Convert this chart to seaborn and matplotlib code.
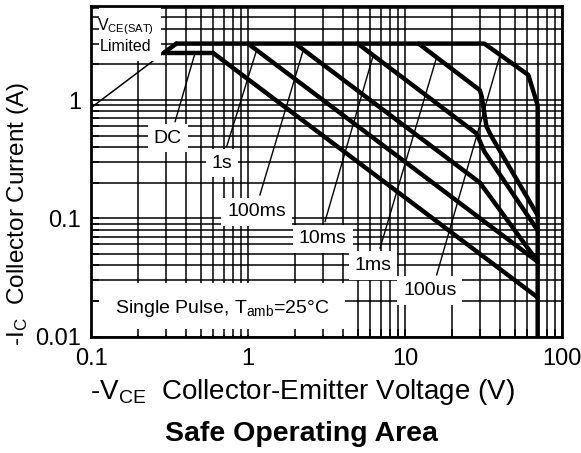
import matplotlib
matplotlib.use("Agg")
import matplotlib.pyplot as plt
import numpy as np
import pandas as pd
import seaborn as sns
from matplotlib.ticker import LogLocator, NullFormatter, FixedLocator, FixedFormatter

sns.set_theme(style="white")
plt.rcParams["font.family"] = ["Liberation Sans", "DejaVu Sans"]
plt.rcParams["mathtext.fontset"] = "custom"
plt.rcParams["mathtext.rm"] = "Liberation Sans"
plt.rcParams["mathtext.it"] = "Liberation Sans"
plt.rcParams["mathtext.bf"] = "Liberation Sans:bold"
plt.rcParams["text.color"] = "black"
plt.rcParams["axes.labelcolor"] = "black"
plt.rcParams["xtick.color"] = "black"
plt.rcParams["ytick.color"] = "black"

# ---------------- data ----------------
# envelope: 3 A current limit + 100us pulse + 70 V voltage limit
env_v = [0.35, 32.0, 61.0, 70.0, 70.0]
env_i = [3.0, 3.0, 1.63, 0.9, 0.01]
# V_CE(SAT) limit (thick part)
sat_v = [0.29, 0.35]
sat_i = [2.5, 3.0]
# V_CE(SAT) limit (thin part)
sat_thin_v = [0.1, 0.29]
sat_thin_i = [0.86, 2.5]
dc_v = [0.29, 0.6, 70.0]
dc_i = [2.5, 2.5, 0.0214]
s1_v = [1.0, 70.0]
s1_i = [3.0, 0.0429]
ms100_v = [2.0, 30.0, 70.0]
ms100_i = [3.0, 0.2, 0.043]
ms10_v = [5.0, 28.6, 32.0, 70.0]
ms10_i = [3.0, 0.52, 0.367, 0.079]
ms1_v = [12.2, 30.0, 30.8, 33.0, 35.6, 70.0]
ms1_i = [3.0, 1.21, 1.07, 0.6, 0.49, 0.106]

# labels: text, text position (V, I), leader target (V, I)
label_text = ["DC", "1s", "100ms", "10ms", "1ms", "100us"]
label_v = [0.309, 0.683, 1.136, 3.0, 6.25, 14.4]
label_i = [0.477, 0.293, 0.113, 0.0668, 0.0398, 0.0245]
leader_from_v = [0.343, 0.731, 1.19, 3.09, 6.93, 15.9]
leader_from_i = [0.655, 0.403, 0.157, 0.0935, 0.0557, 0.0331]
leader_to_v = [0.46, 1.13, 2.25, 6.28, 15.9, 40.3]
leader_to_i = [2.5, 2.6, 2.65, 2.39, 2.3, 2.4]

x_ticks = [0.1, 1, 10, 100]
x_ticklabels = ["0.1", "1", "10", "100"]
y_ticks = [0.01, 0.1, 1]
y_ticklabels = ["0.01", "0.1", "1"]

curves = {
    "env": (env_v, env_i),
    "sat": (sat_v, sat_i),
    "dc": (dc_v, dc_i),
    "1s": (s1_v, s1_i),
    "100ms": (ms100_v, ms100_i),
    "10ms": (ms10_v, ms10_i),
    "1ms": (ms1_v, ms1_i),
}
rows = []
for name, (vv, ii) in curves.items():
    for k, (v, i) in enumerate(zip(vv, ii)):
        rows.append({"curve": name, "order": k, "V": v, "I": i})
df = pd.DataFrame(rows)

# ---------------- figure ----------------
W, H = 581, 453
fig = plt.figure(figsize=(W / 100, H / 100), dpi=100)
fig.patch.set_facecolor("white")
pos = [91 / W, (H - 336.5) / H, 471 / W, 330.5 / H]
ax = fig.add_axes(pos)
ax.set_xscale("log")
ax.set_yscale("log")
ax.set_xlim(0.1, 100)
ax.set_ylim(0.01, 6.24)
ax.set_axisbelow(True)
ax.xaxis.set_major_locator(LogLocator(base=10))
ax.xaxis.set_minor_locator(LogLocator(base=10, subs=np.arange(2, 10)))
ax.yaxis.set_major_locator(LogLocator(base=10))
ax.yaxis.set_minor_locator(LogLocator(base=10, subs=np.arange(2, 10)))
ax.grid(True, which="both", color="black", lw=1.1)
ax.tick_params(which="both", length=0, labelbottom=False, labelleft=False)
for s in ax.spines.values():
    s.set_visible(False)

sns.lineplot(data=df, x="V", y="I", units="curve", estimator=None, sort=False,
             color="black", lw=3.2, ax=ax, legend=False, zorder=2)
ax.plot(sat_thin_v, sat_thin_i, color="black", lw=1.1, zorder=2)

for k in range(len(label_text)):
    ax.plot([leader_from_v[k], leader_to_v[k]], [leader_from_i[k], leader_to_i[k]],
            color="black", lw=1.0, zorder=2.5)
    ax.text(label_v[k], label_i[k], label_text[k], ha="center", va="center",
            fontsize=14, zorder=4, color="black",
            bbox=dict(boxstyle="square,pad=0.3", fc="white", ec="none"))

ax.text(0.166, 3.55, r"$\mathregular{V_{CE(SAT)}}$" + "\nLimited", ha="center",
        va="center", fontsize=11.5, zorder=4, linespacing=1.2, color="black",
        bbox=dict(boxstyle="square,pad=0.45", fc="white", ec="none"))
ax.text(0.683, 0.0171, r"Single Pulse, T$\mathregular{_{amb}}$=25°C", ha="center",
        va="center", fontsize=14, zorder=4, color="black",
        bbox=dict(boxstyle="square,pad=0.8", fc="white", ec="none"))
ax.set_xlabel("")
ax.set_ylabel("")

# overlay axes: spines, ticks and tick labels on top
ax2 = fig.add_axes(pos, sharex=ax, sharey=ax)
ax2.patch.set_visible(False)
ax2.grid(False)
ax2.xaxis.set_major_locator(FixedLocator(x_ticks))
ax2.xaxis.set_major_formatter(FixedFormatter(x_ticklabels))
ax2.yaxis.set_major_locator(FixedLocator(y_ticks))
ax2.yaxis.set_major_formatter(FixedFormatter(y_ticklabels))
ax2.xaxis.set_minor_locator(LogLocator(base=10, subs=np.arange(2, 10)))
ax2.yaxis.set_minor_locator(LogLocator(base=10, subs=np.arange(2, 10)))
ax2.xaxis.set_minor_formatter(NullFormatter())
ax2.yaxis.set_minor_formatter(NullFormatter())
ax2.tick_params(which="both", direction="in", length=5.5, width=1.1, color="black",
                labelsize=17, labelcolor="black", bottom=True, left=True)
ax2.tick_params(axis="x", pad=8)
ax2.tick_params(axis="y", pad=7)
for s in ax2.spines.values():
    s.set_visible(True)
    s.set_color("black")
    s.set_linewidth(2.0)
ax2.set_xlim(0.1, 100)
ax2.set_ylim(0.01, 6.24)

fig.text(302 / W, 1 - 392 / H, r"-$\mathregular{V_{CE}}$  Collector-Emitter Voltage (V)",
         ha="center", va="center", fontsize=20, color="black")
fig.text(301 / W, 1 - 434 / H, "Safe Operating Area", ha="center", va="center",
         fontsize=20.5, fontweight="bold", color="black")
fig.text(18 / W, 1 - 214 / H, r"-$\mathregular{I_C}$  Collector Current (A)",
         ha="center", va="center", fontsize=17.5, rotation=90, color="black")

fig.savefig("out.png", dpi=100, facecolor="white")
